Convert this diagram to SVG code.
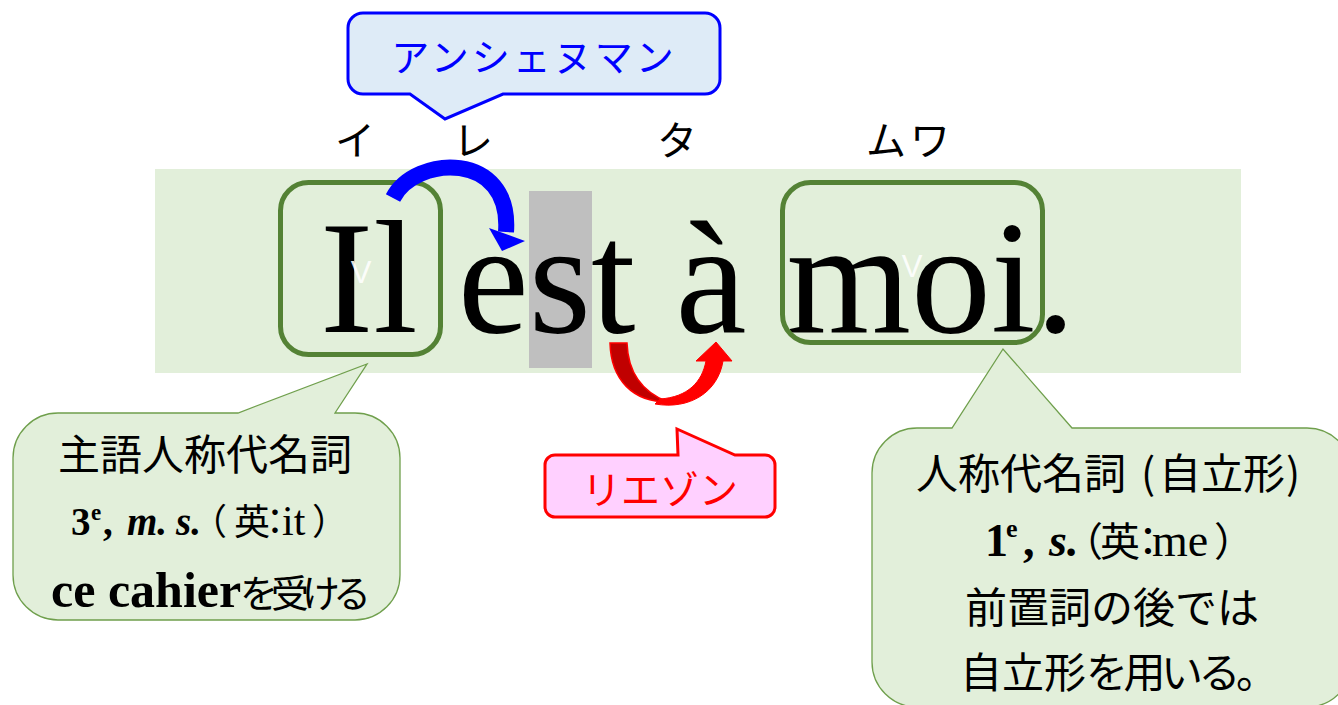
<svg xmlns="http://www.w3.org/2000/svg" width="1338" height="705" viewBox="0 0 1338 705">
<style>
.serif{font-family:"Liberation Serif","Times New Roman",serif;}
.cjk{font-family:"Noto Sans CJK JP","Noto Sans CJK SC",sans-serif;}
.box{fill:none;stroke:#548235;stroke-width:5;}
.callout{fill:#e2efda;stroke:#6f9f4c;stroke-width:1.3;}
.kana{font-family:"Noto Sans CJK JP",sans-serif;font-size:40px;fill:#000;text-anchor:middle;}
.vmark{font-family:"Liberation Sans",Arial,sans-serif;font-size:31px;fill:#ffffff;fill-opacity:0.9;text-anchor:middle;}
</style>
<rect width="1338" height="705" fill="#ffffff"/>

<g id="sentence">
  <rect x="155" y="169" width="1086" height="204" fill="#e2efda"/>
  <rect x="529" y="191" width="63" height="177" fill="#bfbfbf"/>
  <text class="serif" x="320" y="332" font-size="160" fill="#000">Il est à moi.</text>
</g>

<g id="box-il">
  <rect class="box" x="280.5" y="182.5" width="160" height="172" rx="28"/>
  <text class="vmark" x="361" y="283">V</text>
</g>

<g id="box-moi">
  <rect class="box" x="782.5" y="182.5" width="260" height="160" rx="28"/>
  <text class="vmark" x="912" y="277">V</text>
</g>

<g id="pronunciation">
  <text class="kana" x="355" y="155">イ</text>
  <text class="kana" x="473" y="155">レ</text>
  <text class="kana" x="677" y="155">タ</text>
  <text class="kana" x="910" y="155" letter-spacing="4">ムワ</text>
</g>

<g id="connectors">
  <path d="M393,198 C415,155 512,150 506,232" fill="none" stroke="#0000ff" stroke-width="16"/>
  <polygon points="489,228 525,241 502,251" fill="#0000ff"/>
  <path d="M610,343 L627,343 C628,372 642,392 668,402 C633,402 611,380 610,343 Z" fill="#c00000" stroke="#ff0000" stroke-width="1.5"/>
  <path d="M655,404 C690,410 718,392 723,361 L732,361 L716,342 L696,361 L706,361 C702,382 688,397 660,399 Z" fill="#ff0000" stroke="#ff0000" stroke-width="1"/>
</g>

<g id="callout-enchainement">
  <path d="M363,13 L705,13 A15,15 0 0 1 720,28 L720,79 A15,15 0 0 1 705,94 L503,94 L445,119 L410,94 L363,94 A15,15 0 0 1 348,79 L348,28 A15,15 0 0 1 363,13 Z" fill="#deebf7" stroke="#0000ff" stroke-width="3"/>
  <text class="cjk" x="534" y="71" font-size="38" letter-spacing="3" fill="#0000ff" text-anchor="middle">アンシェヌマン</text>
</g>

<g id="callout-liaison">
  <path d="M555,455 L678,455 L677,429 L735,455 L765,455 A10,10 0 0 1 775,465 L775,507 A10,10 0 0 1 765,517 L555,517 A10,10 0 0 1 545,507 L545,465 A10,10 0 0 1 555,455 Z" fill="#ffd0ff" stroke="#ff0000" stroke-width="3"/>
  <text class="cjk" x="660" y="504" font-size="39" fill="#ff0000" text-anchor="middle">リエゾン</text>
</g>

<g id="callout-il">
  <path class="callout" d="M58,413 L238,413 L367,364 L335,413 L355,413 A45,45 0 0 1 400,458 L400,575 A45,45 0 0 1 355,620 L58,620 A45,45 0 0 1 13,575 L13,458 A45,45 0 0 1 58,413 Z"/>
  <text class="cjk" x="205" y="470" font-size="42" fill="#000" text-anchor="middle">主語人称代名詞</text>
  <text class="serif" y="535" font-size="39" fill="#000"><tspan x="71" font-weight="bold">3</tspan><tspan x="91" y="520" font-size="23" font-weight="bold">e</tspan><tspan x="103" y="535" font-weight="bold">,</tspan><tspan x="127" font-weight="bold" font-style="italic">m.</tspan><tspan x="176" font-weight="bold" font-style="italic">s.</tspan><tspan x="191" class="cjk" font-size="36">（</tspan><tspan x="234" class="cjk" font-size="36">英</tspan><tspan x="257" class="cjk" font-size="36">：</tspan><tspan x="282" font-size="42">it</tspan><tspan x="312" class="cjk" font-size="36">）</tspan></text>
  <text y="607" fill="#000"><tspan x="51" class="serif" font-size="50" font-weight="bold">ce cahier</tspan><tspan x="240" class="cjk" font-size="38" letter-spacing="-7">を受ける</tspan></text>
</g>

<g id="callout-moi">
  <path class="callout" d="M917,428 L952,428 L1003,349 L1072,428 L1307,428 A45,45 0 0 1 1352,473 L1352,662 A45,45 0 0 1 1307,707 L917,707 A45,45 0 0 1 872,662 L872,473 A45,45 0 0 1 917,428 Z"/>
  <text class="cjk" y="489" font-size="42" fill="#000"><tspan x="916">人称代名詞</tspan><tspan x="1141">(</tspan><tspan x="1159">自立形</tspan><tspan x="1286">)</tspan></text>
  <text class="serif" y="556" font-size="46" fill="#000"><tspan x="985" font-weight="bold">1</tspan><tspan x="1006" y="537" font-size="26" font-weight="bold">e</tspan><tspan x="1023" y="556" font-weight="bold">,</tspan><tspan x="1049" font-weight="bold" font-style="italic">s.</tspan><tspan x="1063" class="cjk" font-size="40">（</tspan><tspan x="1100" class="cjk" font-size="40">英</tspan><tspan x="1128" class="cjk" font-size="40">：</tspan><tspan x="1152">me</tspan><tspan x="1214" class="cjk" font-size="40">）</tspan></text>
  <text class="cjk" x="965" y="623" font-size="42" fill="#000">前置詞の後では</text>
  <text class="cjk" y="688" font-size="42" fill="#000"><tspan x="960">自立形</tspan><tspan x="1086" letter-spacing="-4.5">を用いる。</tspan></text>
</g>
</svg>
